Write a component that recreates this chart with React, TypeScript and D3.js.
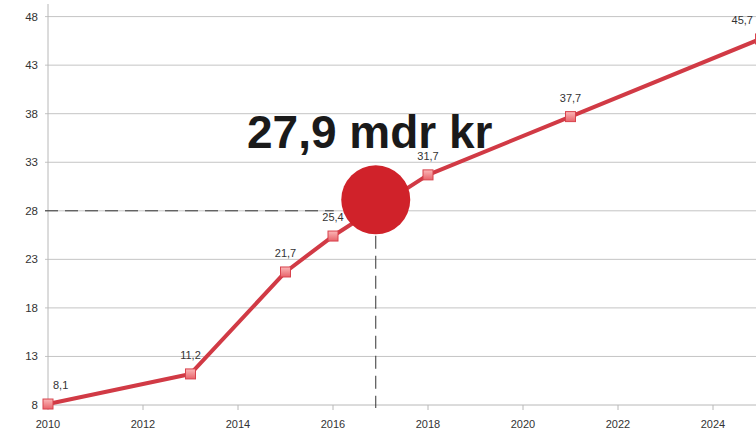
import { useEffect, useRef } from "react";
import { select, scaleLinear, line as d3Line } from "d3";

const years = [2010, 2013, 2015, 2016, 2018, 2021, 2025];
const values = [8.1, 11.2, 21.7, 25.4, 31.7, 37.7, 45.7];
const valueLabels = ["8,1", "11,2", "21,7", "25,4", "31,7", "37,7", "45,7"];
const yTicks = [8, 13, 18, 23, 28, 33, 38, 43, 48];
const xTicks = [2010, 2012, 2014, 2016, 2018, 2020, 2022, 2024];
const highlightYear = 2016.9;
const highlightValue = 27.9;
const highlightText = "27,9 mdr kr";

const W = 756;
const H = 433;

export default function App() {
  const svgRef = useRef<SVGSVGElement | null>(null);

  useEffect(() => {
    if (!svgRef.current) return;
    const svg = select(svgRef.current);
    svg.selectAll("*").remove();

    const x = scaleLinear().domain([2010, 2025]).range([48, 760.5]);
    const y = scaleLinear().domain([8, 48]).range([405, 16.6]);
    const font = "'Liberation Sans', Arial, sans-serif";

    const defs = svg.append("defs");
    const grad = defs
      .append("linearGradient")
      .attr("id", "mk")
      .attr("x1", 0)
      .attr("y1", 0)
      .attr("x2", 0)
      .attr("y2", 1);
    grad.append("stop").attr("offset", "0%").attr("stop-color", "#fbb8b8");
    grad.append("stop").attr("offset", "100%").attr("stop-color", "#e8636a");

    // grid
    svg
      .append("g")
      .selectAll("line")
      .data(yTicks.slice(1))
      .join("line")
      .attr("x1", 45)
      .attr("x2", W)
      .attr("y1", (d) => y(d))
      .attr("y2", (d) => y(d))
      .attr("stroke", "#c4c4c4")
      .attr("stroke-width", 1);

    // axes
    svg
      .append("line")
      .attr("x1", 48)
      .attr("x2", 48)
      .attr("y1", 4)
      .attr("y2", 405)
      .attr("stroke", "#b8b8b8");
    svg
      .append("line")
      .attr("x1", 45)
      .attr("x2", W)
      .attr("y1", 405)
      .attr("y2", 405)
      .attr("stroke", "#b8b8b8");

    svg
      .append("g")
      .selectAll("line")
      .data(xTicks)
      .join("line")
      .attr("x1", (d) => x(d))
      .attr("x2", (d) => x(d))
      .attr("y1", 405)
      .attr("y2", 410)
      .attr("stroke", "#b8b8b8");

    svg
      .append("g")
      .selectAll("text")
      .data(yTicks)
      .join("text")
      .attr("x", 38)
      .attr("y", (d) => y(d) + 4)
      .attr("text-anchor", "end")
      .attr("font-family", font)
      .attr("font-size", 11.5)
      .attr("fill", "#333")
      .text((d) => d);

    svg
      .append("g")
      .selectAll("text")
      .data(xTicks)
      .join("text")
      .attr("x", (d) => x(d))
      .attr("y", 428)
      .attr("text-anchor", "middle")
      .attr("font-family", font)
      .attr("font-size", 11)
      .attr("fill", "#333")
      .text((d) => d);

    // dashed guides
    const hx = x(highlightYear);
    const hy = y(highlightValue);
    svg
      .append("line")
      .attr("x1", 45)
      .attr("x2", hx - 42)
      .attr("y1", y(28))
      .attr("y2", y(28))
      .attr("stroke", "#333")
      .attr("stroke-dasharray", "13,7");
    svg
      .append("line")
      .attr("x1", hx)
      .attr("x2", hx)
      .attr("y1", hy + 24)
      .attr("y2", 408)
      .attr("stroke", "#333")
      .attr("stroke-dasharray", "13,7");

    // series line
    const pts = years.map((yr, i) => ({ x: yr, y: values[i], label: valueLabels[i] }));
    const lineGen = d3Line<{ x: number; y: number }>()
      .x((d) => x(d.x))
      .y((d) => y(d.y));
    svg
      .append("path")
      .attr("d", lineGen(pts))
      .attr("fill", "none")
      .attr("stroke", "#d13a45")
      .attr("stroke-width", 4)
      .attr("stroke-linejoin", "round");

    svg
      .append("g")
      .selectAll("rect")
      .data(pts)
      .join("rect")
      .attr("x", (d) => x(d.x) - 5)
      .attr("y", (d) => y(d.y) - 5)
      .attr("width", 10)
      .attr("height", 10)
      .attr("fill", "url(#mk)")
      .attr("stroke", "#d8434d")
      .attr("stroke-width", 1);

    const n = pts.length;
    svg
      .append("g")
      .selectAll("text")
      .data(pts)
      .join("text")
      .attr("x", (d, i) => (i === 0 ? x(d.x) + 5 : i === n - 1 ? 753 : x(d.x)))
      .attr("y", (d) => y(d.y) - 15)
      .attr("text-anchor", (d, i) => (i === 0 ? "start" : i === n - 1 ? "end" : "middle"))
      .attr("font-family", font)
      .attr("font-size", 11)
      .attr("fill", "#333")
      .text((d) => d.label);

    // highlight
    svg
      .append("circle")
      .attr("cx", hx)
      .attr("cy", hy - 12)
      .attr("r", 34.5)
      .attr("fill", "#d0222a");

    svg
      .append("text")
      .attr("x", 247)
      .attr("y", 148)
      .attr("font-family", font)
      .attr("font-weight", "bold")
      .attr("font-size", 46)
      .attr("fill", "#1a1a1a")
      .text(highlightText);
  }, []);

  return (
    <svg
      ref={svgRef}
      width={W}
      height={H}
      style={{ position: "absolute", left: 0, top: 0, background: "#fff" }}
    />
  );
}
